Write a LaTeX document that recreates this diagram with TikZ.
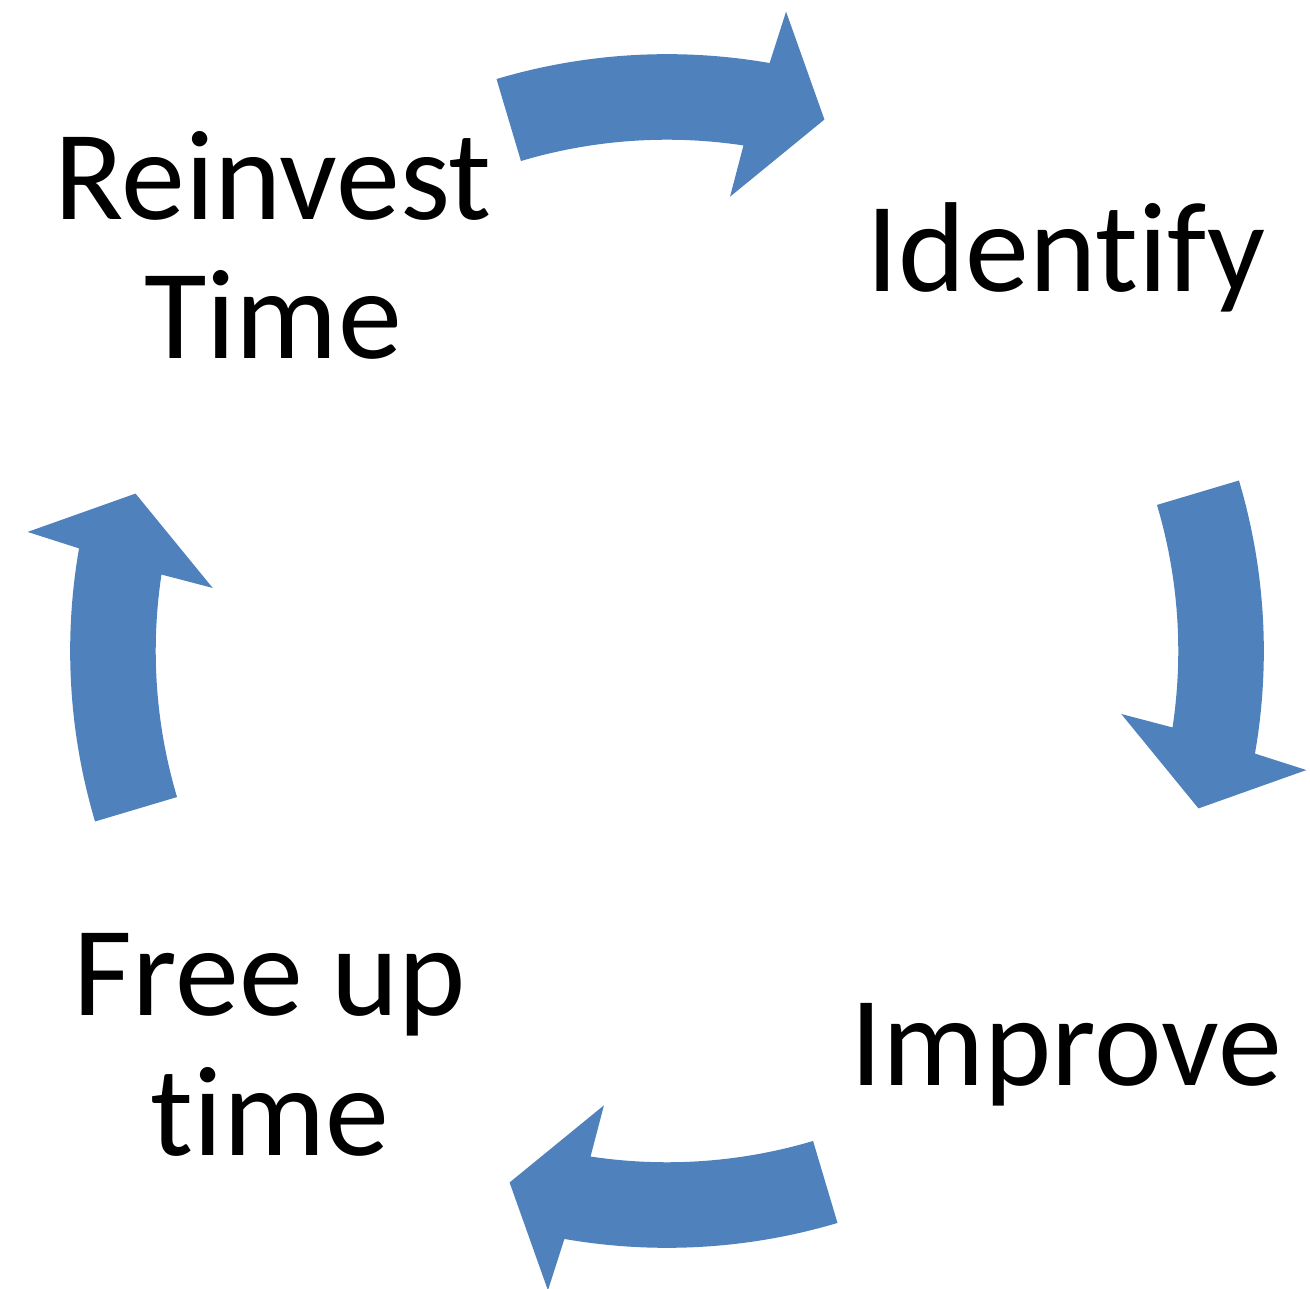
\documentclass[tikz,border=0pt]{standalone}
\usepackage{fontspec}
\setmainfont{Carlito}[RawFeature={-liga;-clig;-dlig}]
\definecolor{officeblue}{HTML}{4F81BD}
\begin{document}
\begin{tikzpicture}[x=0.01cm,y=0.01cm,
  cyclearrow/.style={fill=officeblue,draw=none},
  label/.style={inner sep=0pt,align=center,anchor=base,font=\fontsize{36.4pt}{39.8pt}\selectfont}]
\useasboundingbox (-667,-638) rectangle (643,651);
\foreach \a in {0,-90,-180,-270}{
  \fill[cyclearrow]
    ({\a+106.6}:5.965cm)
    arc[start angle={\a+106.6}, end angle={\a+80.1}, radius=5.965cm]
    -- ({\a+79.45}:6.50cm)
    -- ({\a+73.5}:5.54cm)
    -- ({\a+82.1}:4.584cm)
    -- ({\a+81.4}:5.11cm)
    arc[start angle={\a+81.4}, end angle={\a+106.6}, radius=5.11cm]
    -- cycle;
}
\node[label] (reinvest) at (-394,292) {Reinvest\\Time};
\node[label] (identify) at (399,359) {Identify};
\node[label] (improve) at (399,-434) {Improve};
\node[label] (freeup) at (-397,-504) {Free up\\time};
\end{tikzpicture}
\end{document}
